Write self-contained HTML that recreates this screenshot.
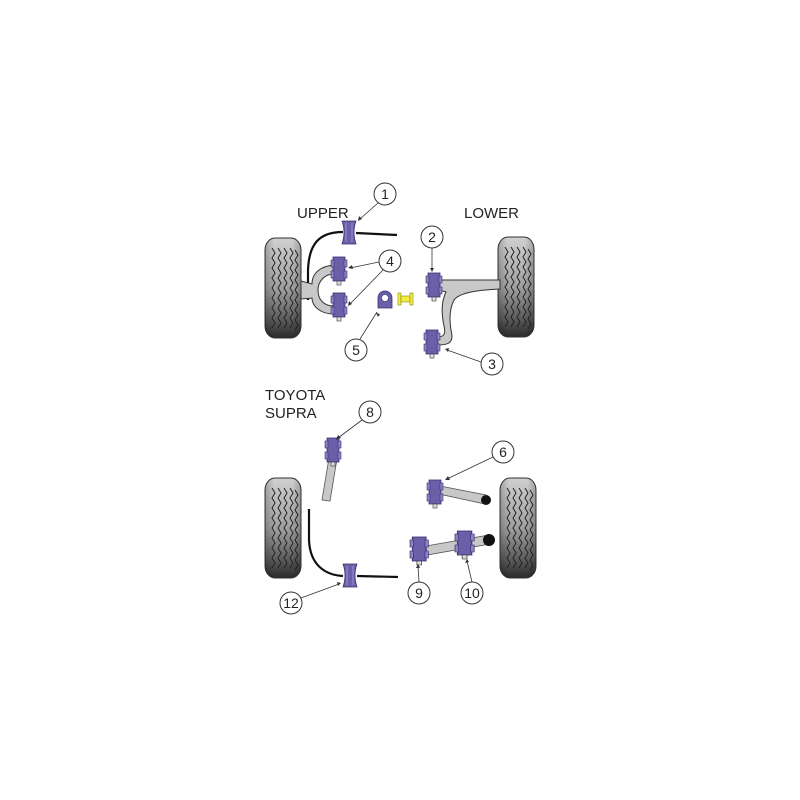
<!DOCTYPE html>
<html><head><meta charset="utf-8"><style>
html,body{margin:0;padding:0;background:#fff;}
svg{display:block;}
text{font-family:"Liberation Sans",Arial,sans-serif;fill:#222;}
</style></head><body>
<svg width="800" height="800" viewBox="0 0 800 800" xmlns="http://www.w3.org/2000/svg">
<defs>
<linearGradient id="tg" x1="0" y1="0" x2="0" y2="1">
<stop offset="0" stop-color="#d0d0d0"/><stop offset="0.5" stop-color="#a0a0a0"/><stop offset="0.82" stop-color="#5a5a5a"/><stop offset="1" stop-color="#2a2a2a"/>
</linearGradient>
<linearGradient id="tgh" x1="0" y1="0" x2="1" y2="0">
<stop offset="0" stop-color="#000" stop-opacity="0.2"/><stop offset="0.25" stop-color="#000" stop-opacity="0"/><stop offset="0.75" stop-color="#000" stop-opacity="0"/><stop offset="1" stop-color="#000" stop-opacity="0.2"/>
</linearGradient>
<path id="wv" d="M0,0 l3,5 l-3,5 l3,5 l-3,5 l3,5 l-3,5 l3,5 l-3,5 l3,5 l-3,5 l3,5 l-3,5 l3,5 l-3,5 l3,5 l-3,5" fill="none" stroke="#222" stroke-width="1"/>
<g id="tire">
<rect x="0" y="0" width="36" height="100" rx="10" ry="12" fill="url(#tg)" stroke="#333" stroke-width="1"/>
<rect x="0" y="0" width="36" height="100" rx="10" ry="12" fill="url(#tgh)"/>
<use href="#wv" x="7" y="10"/><use href="#wv" x="13" y="10"/><use href="#wv" x="19" y="10"/><use href="#wv" x="25" y="10"/><use href="#wv" x="30" y="12"/>
</g>
<g id="bush">
<rect x="2" y="0" width="12" height="24" fill="#6a5fa8" stroke="#3a3270" stroke-width="0.8"/>
<rect x="0" y="3" width="3" height="7" fill="#8c82c4" stroke="#3a3270" stroke-width="0.6"/>
<rect x="13" y="3" width="3" height="7" fill="#8c82c4" stroke="#3a3270" stroke-width="0.6"/>
<rect x="0" y="14" width="3" height="7" fill="#8c82c4" stroke="#3a3270" stroke-width="0.6"/>
<rect x="13" y="14" width="3" height="7" fill="#8c82c4" stroke="#3a3270" stroke-width="0.6"/>
<rect x="6" y="24" width="4" height="4" fill="#ddd" stroke="#333" stroke-width="0.6"/>
</g>
<g id="hg">
<path d="M0,0 Q4,11 0,23 L14,23 Q10,11 14,0 Z" fill="#6a5fa8" stroke="#3a3270" stroke-width="0.8"/>
<path d="M4,2 L4,21 M10,2 L10,21" stroke="#8c82c4" stroke-width="1.5"/>
</g>
</defs>

<text x="297" y="218" font-size="15">UPPER</text>
<text x="464" y="218" font-size="15">LOWER</text>

<use href="#tire" x="265" y="238"/>
<use href="#tire" x="498" y="237"/>

<path d="M343,232 C318,232 309,245 308,270 L308,300" fill="none" stroke="#111" stroke-width="2.2"/>
<path d="M356,233 L397,235" fill="none" stroke="#111" stroke-width="2.2"/>
<use href="#hg" x="342" y="221"/>

<path d="M301,281 L312,284 C312,272 322,266 334,265 L334,274 C324,274 318,282 318,290 C318,300 324,306 334,306 L334,314 C320,314 312,306 312,298 L301,299 Z" fill="#c8c8c8" stroke="#333" stroke-width="1"/>
<use href="#bush" x="331" y="257"/>
<use href="#bush" x="331" y="293"/>

<path d="M378,308 L378,298 A7,7 0 0 1 392,298 L392,308 Z" fill="#6a5fa8" stroke="#3a3270" stroke-width="0.8"/>
<circle cx="385" cy="298" r="3.5" fill="#fff" stroke="#3a3270" stroke-width="0.6"/>
<g fill="#f2ee40" stroke="#8a8620" stroke-width="0.6">
<rect x="398" y="293" width="3" height="12"/><rect x="401" y="296" width="9" height="6"/><rect x="410" y="293" width="3" height="12"/>
</g>

<path d="M439,280 L500,280 L500,289 C480,290 460,292 454,300 C448,312 450,325 452,336 C452,343 448,345 437,345 L437,337 C444,337 446,334 444,326 C441,312 442,300 446,292 L439,290 Z" fill="#c8c8c8" stroke="#333" stroke-width="1"/>
<use href="#bush" x="426" y="273"/>
<use href="#bush" x="424" y="330"/>

<g fill="#fff" stroke="#333" stroke-width="1">
<circle cx="385" cy="194" r="11"/><circle cx="390" cy="261" r="11"/><circle cx="356" cy="350" r="11"/><circle cx="432" cy="237" r="11"/><circle cx="492" cy="364" r="11"/>
</g>
<g stroke="#333" stroke-width="0.8" fill="none">
<line x1="378" y1="203" x2="360" y2="219"/><line x1="379" y1="262" x2="350" y2="268"/><line x1="383" y1="270" x2="350" y2="304"/><line x1="360" y1="339" x2="377" y2="312"/><line x1="432" y1="248" x2="432" y2="270"/><line x1="481" y1="362" x2="447" y2="350"/>
</g>
<g fill="#333">
<path d="M358,221 l1,-5 l3,3 z"/><path d="M348,268 l4,-3 l1,4 z"/><path d="M348,306 l1,-5 l3,3 z"/><path d="M376,313 l4,1 l-2,3 z"/><path d="M432,272 l-2,-4 l4,0 z"/><path d="M445,349 l4,-1 l-1,4 z"/>
</g>
<g font-size="14" text-anchor="middle">
<text x="385" y="199">1</text><text x="390" y="266">4</text><text x="356" y="355">5</text><text x="432" y="242">2</text><text x="492" y="369">3</text>
</g>

<text x="265" y="400" font-size="15">TOYOTA</text>
<text x="265" y="418" font-size="15">SUPRA</text>

<use href="#tire" x="265" y="478"/>
<use href="#tire" x="500" y="478"/>

<path d="M329,458 L337,459 L330,501 L322,500 Z" fill="#c8c8c8" stroke="#555" stroke-width="0.8"/>
<use href="#bush" x="325" y="438"/>

<path d="M309,509 L309,540 C310,565 325,575 343,576" fill="none" stroke="#111" stroke-width="2.2"/>
<path d="M357,576 L398,577" fill="none" stroke="#111" stroke-width="2.2"/>
<use href="#hg" x="343" y="564"/>

<path d="M440,486 L486,495 L485,504 L439,494 Z" fill="#c8c8c8" stroke="#555" stroke-width="0.8"/>
<circle cx="486" cy="500" r="5" fill="#111"/>
<use href="#bush" x="427" y="480"/>

<path d="M426,546 L489,535 L490,544 L427,555 Z" fill="#c8c8c8" stroke="#555" stroke-width="0.8"/>
<circle cx="489" cy="540" r="6" fill="#111"/>
<g transform="translate(410,537) scale(1.15,1)"><use href="#bush"/></g>
<g transform="translate(455,531) scale(1.2,1)"><use href="#bush"/></g>

<g fill="#fff" stroke="#333" stroke-width="1">
<circle cx="370" cy="412" r="11"/><circle cx="503" cy="452" r="11"/><circle cx="291" cy="603" r="11"/><circle cx="419" cy="593" r="11"/><circle cx="472" cy="593" r="11"/>
</g>
<g stroke="#333" stroke-width="0.8" fill="none">
<line x1="362" y1="420" x2="338" y2="438"/><line x1="493" y1="457" x2="447" y2="479"/><line x1="301" y1="598" x2="339" y2="584"/><line x1="419" y1="582" x2="418" y2="566"/><line x1="472" y1="582" x2="467" y2="561"/>
</g>
<g fill="#333">
<path d="M336,440 l2,-5 l3,3 z"/><path d="M445,480 l3,-4 l2,4 z"/><path d="M341,583 l-4,-1 l1,4 z"/><path d="M418,564 l-2,4 l4,0 z"/><path d="M467,559 l-2,4 l4,-1 z"/>
</g>
<g font-size="14" text-anchor="middle">
<text x="370" y="417">8</text><text x="503" y="457">6</text><text x="291" y="608">12</text><text x="419" y="598">9</text><text x="472" y="598">10</text>
</g>
</svg>
</body></html>
